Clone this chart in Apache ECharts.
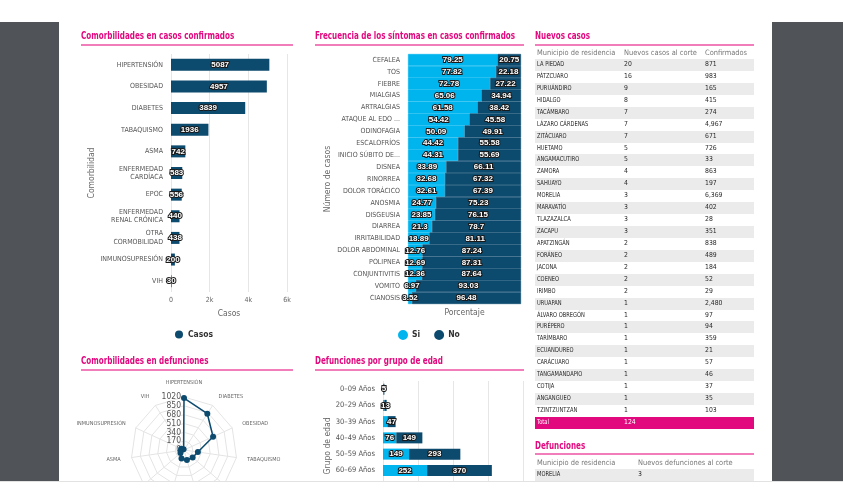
<!DOCTYPE html>
<html><head><meta charset="utf-8">
<script src="https://cdn.jsdelivr.net/npm/echarts@6/dist/echarts.min.js"></script>
<style>
body{margin:0;background:#fff;}
#page{position:relative;width:843px;height:504px;overflow:hidden;background:#fff;font-family:'Liberation Sans Narrow','DejaVu Sans Condensed',sans-serif;}
.side{position:absolute;top:22px;height:459px;background:#505458;}
#bline{position:absolute;left:0;top:481px;width:843px;height:1px;background:#e2e2e2;}
#clip{position:absolute;left:59px;top:22px;width:713px;height:459px;overflow:hidden;}
#inner{position:absolute;left:-59px;top:-22px;width:843px;height:600px;}
#chart{position:absolute;left:0;top:0;width:843px;height:600px;}
.title{position:absolute;color:#e2097f;font-weight:bold;font-size:10px;line-height:12px;white-space:nowrap;transform:scaleX(0.8);transform-origin:0 50%;}
.uline{position:absolute;height:2px;background:#f27dbb;}
.row{position:absolute;left:535px;width:219px;font-size:6.8px;color:#2a2a2a;white-space:nowrap;}
.row span{position:absolute;top:0;}
.row span.c0{transform:scaleX(0.84);transform-origin:0 50%;}
.hdr{color:#777;font-size:7.4px;}
.hdr span.c0{transform:none;}
.gray{background:#ebebeb;}
.tot{background:#e2097f;color:#fff;}
</style></head>
<body>
<div id="page">
  <div class="side" style="left:0;width:59px;"></div>
  <div class="side" style="left:772px;width:71px;"></div>
  <div id="bline"></div>
  <div id="clip"><div id="inner">
    <div id="chart"></div>
    <div class="title" style="left:81px;top:30px;">Comorbilidades en casos confirmados</div>
    <div class="uline" style="left:81px;top:44px;width:212px;"></div>
    <div class="title" style="left:315px;top:30px;">Frecuencia de los síntomas en casos confirmados</div>
    <div class="uline" style="left:315px;top:44px;width:209px;"></div>
    <div class="title" style="left:535px;top:30px;">Nuevos casos</div>
    <div class="uline" style="left:535px;top:44px;width:219px;"></div>
    <div class="title" style="left:81px;top:355px;">Comorbilidades en defunciones</div>
    <div class="uline" style="left:81px;top:369px;width:212px;"></div>
    <div class="title" style="left:315px;top:355px;">Defunciones por grupo de edad</div>
    <div class="uline" style="left:315px;top:369px;width:209px;"></div>
    <div class="title" style="left:535px;top:440px;">Defunciones</div>
    <div class="uline" style="left:535px;top:453px;width:219px;"></div>
    <div id="tables"></div>
  </div></div>
</div>
<script>
// ---- data ----
const comorbCats = ['HIPERTENSIÓN','OBESIDAD','DIABETES','TABAQUISMO','ASMA','ENFERMEDAD\nCARDÍACA','EPOC','ENFERMEDAD\nRENAL CRÓNICA','OTRA\nCORMOBILIDAD','INMUNOSUPRESIÓN','VIH'];
const comorbVals = [5087,4957,3839,1936,742,583,556,440,438,200,30];
const casosTicks = ['0','2k','4k','6k'];

const sintomasCats = ['CEFALEA','TOS','FIEBRE','MIALGIAS','ARTRALGIAS','ATAQUE AL EDO ...','ODINOFAGIA','ESCALOFRÍOS','INICIO SÚBITO DE...','DISNEA','RINORREA','DOLOR TORÁCICO','ANOSMIA','DISGEUSIA','DIARREA','IRRITABILIDAD','DOLOR ABDOMINAL','POLIPNEA','CONJUNTIVITIS','VOMITO','CIANOSIS'];
const sintomasSi = [79.25,77.82,72.78,65.06,61.58,54.42,50.09,44.42,44.31,33.89,32.68,32.61,24.77,23.85,21.3,18.89,12.76,12.69,12.36,6.97,3.52];
const sintomasNo = [20.75,22.18,27.22,34.94,38.42,45.58,49.91,55.58,55.69,66.11,67.32,67.39,75.23,76.15,78.7,81.11,87.24,87.31,87.64,93.03,96.48];

// radar, listed clockwise from the top
const radarNames = ['HIPERTENSIÓN','DIABETES','OBESIDAD','TABAQUISMO','EPOC','ENFERMEDAD RENAL CRÓNICA','ENFERMEDAD CARDÍACA','OTRA COMORBILIDAD','ASMA','INMUNOSUPRESIÓN','VIH'];
const radarVals = [1000,830,615,270,220,200,170,90,60,60,15];
const radarMax = 1020;

const edadCats = ['0–09 Años','20–29 Años','30–39 Años','40–49 Años','50–59 Años','60–69 Años','70–79 Años','80–89 Años'];
const edadSi = [3,8,25,76,149,252,230,130];
const edadNo = [5,13,47,149,293,370,320,190];

const municipios = ['LA PIEDAD','PÁTZCUARO','PURUÁNDIRO','HIDALGO','TACÁMBARO','LÁZARO CÁRDENAS','ZITÁCUARO','HUETAMO','ANGAMACUTIRO','ZAMORA','SAHUAYO','MORELIA','MARAVATÍO','TLAZAZALCA','ZACAPU','APATZINGÁN','FORÁNEO','JACONA','COENEO','IRIMBO','URUAPAN','ÁLVARO OBREGÓN','PURÉPERO','TARÍMBARO','ECUANDUREO','CARÁCUARO','TANGAMANDAPIO','COTIJA','ANGANGUEO','TZINTZUNTZAN'];
const nuevosCasos = [20,16,9,8,7,7,7,5,5,4,4,3,3,3,3,2,2,2,2,2,1,1,1,1,1,1,1,1,1,1];
const confirmados = ['871','983','165','415','274','4,967','671','726','33','863','197','6,369','402','28','351','838','489','184','52','29','2,480','97','94','359','21','57','46','37','35','103'];
const casosHeader = ['Municipio de residencia','Nuevos casos al corte','Confirmados'];
const totalLabel = ['Total','124'];
const defHeader = ['Municipio de residencia','Nuevos defunciones al corte'];
const defMunicipios = ['MORELIA'];
const defNuevas = [3];

// ---- tables ----
const tbl = document.getElementById('tables');
const RH = 11.93;
function addRow(top, cells, xs, cls){
  const d = document.createElement('div');
  d.className = 'row ' + (cls||'');
  d.style.top = top + 'px'; d.style.height = RH + 'px'; d.style.lineHeight = RH + 'px';
  cells.forEach((c,i)=>{ const s=document.createElement('span'); s.className='c'+i; s.textContent=c; s.style.left=xs[i]+'px'; d.appendChild(s); });
  tbl.appendChild(d);
}
const cx3 = [2,89,170];
addRow(47, casosHeader, cx3, 'hdr');
municipios.forEach((m,i)=> addRow(59 + i*RH, [m, String(nuevosCasos[i]), confirmados[i]], cx3, i%2===0?'gray':''));
addRow(59 + municipios.length*RH, totalLabel, cx3, 'tot');
const cx2 = [2,103];
addRow(457, defHeader, cx2, 'hdr');
defMunicipios.forEach((m,i)=> addRow(469 + i*RH, [m, String(defNuevas[i])], cx2, i%2===0?'gray':''));

// ---- chart ----
const dark = '#0c4a6e', light = '#00b5ee';
const ff = "'Liberation Sans Narrow','DejaVu Sans Condensed',sans-serif";
const lbl = {show:true, position:'inside', color:'#fff', fontWeight:'bold', fontSize:8, fontFamily:"'Liberation Sans',sans-serif", textBorderColor:'#1a1a1a', textBorderWidth:2};
const catLabel = {fontSize:7, color:'#555', fontFamily:ff};
const nameStyle = {fontSize:8.5, color:'#666', fontFamily:ff};

// ECharts lays radar indicators counter-clockwise: keep the first, reverse the rest
const rOrder = [0].concat(radarNames.map((_,i)=>i).slice(1).reverse());

const chart = echarts.init(document.getElementById('chart'), null, {renderer:'canvas'});
chart.setOption({
  animation:false,
  textStyle:{fontFamily:ff},
  legend:[
    {data:['Casos'], left:170, top:325, icon:'circle', itemWidth:8, itemHeight:8, textStyle:{fontSize:8.5, fontWeight:'bold', color:'#333', fontFamily:ff}},
    {data:['Si','No'], left:393, top:325, icon:'circle', itemWidth:8, itemHeight:8, itemGap:14, textStyle:{fontSize:8.5, fontWeight:'bold', color:'#333', fontFamily:ff}}
  ],
  grid:[
    {left:171, top:54, width:116, height:238},
    {left:408, top:54, width:113, height:250},
    {left:383, top:381, width:140, height:130}
  ],
  xAxis:[
    {type:'value', gridIndex:0, min:0, max:6000, interval:2000,
     axisLabel:{fontSize:7, color:'#666', margin:5, formatter:(v)=>casosTicks[Math.round(v/2000)]},
     splitLine:{lineStyle:{color:'#e6e6e6'}}, axisLine:{show:false}, axisTick:{show:false},
     name:'Casos', nameLocation:'middle', nameGap:17, nameTextStyle:nameStyle},
    {type:'value', gridIndex:1, min:0, max:100,
     axisLabel:{show:false}, splitLine:{show:false}, axisLine:{show:false}, axisTick:{show:false},
     name:'Porcentaje', nameLocation:'middle', nameGap:4, nameTextStyle:nameStyle},
    {type:'value', gridIndex:2, min:0, max:800, interval:200,
     axisLabel:{fontSize:7, color:'#666'}, splitLine:{lineStyle:{color:'#e6e6e6'}}, axisLine:{show:false}, axisTick:{show:false}}
  ],
  yAxis:[
    {type:'category', gridIndex:0, data:comorbCats, inverse:true,
     axisLabel:Object.assign({margin:8, lineHeight:8.5}, catLabel), axisTick:{show:false}, axisLine:{show:false},
     name:'Comorbilidad', nameLocation:'middle', nameGap:74, nameTextStyle:nameStyle},
    {type:'category', gridIndex:1, data:sintomasCats, inverse:true,
     axisLabel:Object.assign({margin:8}, catLabel), axisTick:{show:false}, axisLine:{show:false},
     name:'Número de casos', nameLocation:'middle', nameGap:76, nameTextStyle:nameStyle},
    {type:'category', gridIndex:2, data:edadCats, inverse:true,
     axisLabel:Object.assign({margin:8}, catLabel, {fontSize:7.5}), axisTick:{show:false}, axisLine:{show:false},
     name:'Grupo de edad', nameLocation:'middle', nameGap:50, nameTextStyle:nameStyle}
  ],
  radar:{
    center:[184,450], radius:53, startAngle:90, splitNumber:6, shape:'polygon',
    indicator: rOrder.map((k,i)=> i===0 ? {name:radarNames[k], min:0, max:radarMax, axisLabel:{show:true}} : {name:radarNames[k], min:0, max:radarMax}),
    axisName:{color:'#666', fontSize:5.5, fontFamily:ff},
    nameGap:11,
    axisLabel:{show:false, fontSize:8.5, color:'#555', fontFamily:ff, margin:3, formatter:(v)=>String(v)},
    splitLine:{lineStyle:{color:'#e4e4e4'}}, splitArea:{show:false},
    axisLine:{lineStyle:{color:'#e4e4e4'}}
  },
  series:[
    {name:'Casos', type:'bar', xAxisIndex:0, yAxisIndex:0, data:comorbVals, barWidth:12, itemStyle:{color:dark}, label:lbl},
    {name:'Si', type:'bar', xAxisIndex:1, yAxisIndex:1, stack:'s', data:sintomasSi, barCategoryGap:'0%', itemStyle:{color:light, borderColor:light, borderWidth:0.6}, label:lbl},
    {name:'No', type:'bar', xAxisIndex:1, yAxisIndex:1, stack:'s', data:sintomasNo, barCategoryGap:'0%', itemStyle:{color:dark, borderColor:dark, borderWidth:0.6}, label:lbl},
    {name:'Defunciones', type:'radar', data:[{value:rOrder.map(k=>radarVals[k])}], symbol:'circle', symbolSize:6,
     lineStyle:{color:dark, width:1.5}, itemStyle:{color:dark}},
    {name:'Si', type:'bar', xAxisIndex:2, yAxisIndex:2, stack:'e', data:edadSi, barWidth:11, itemStyle:{color:light}, label:lbl, labelLayout:{hideOverlap:true}},
    {name:'No', type:'bar', xAxisIndex:2, yAxisIndex:2, stack:'e', data:edadNo, barWidth:11, itemStyle:{color:dark}, label:lbl, labelLayout:{hideOverlap:true}}
  ]
});
</script>
</body></html>
